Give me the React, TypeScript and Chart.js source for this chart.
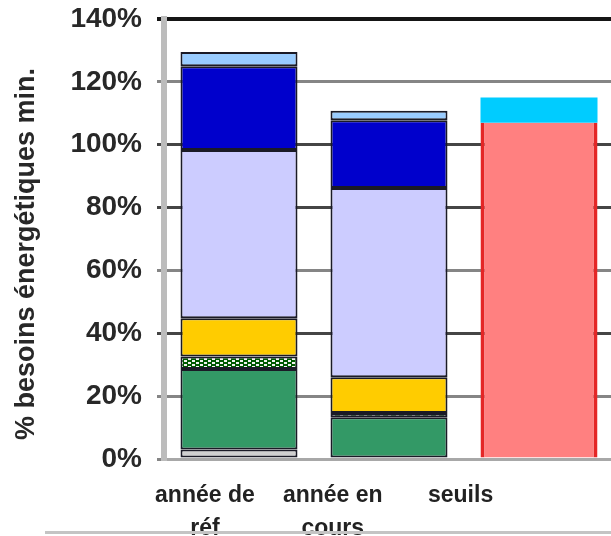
import React, { useEffect, useRef } from 'react';
import { Chart, registerables } from 'chart.js';

Chart.register(...registerables);

// ---- data ----
const categories = ['année de réf', 'année en cours', 'seuils'];
const categoryLabels: string[][] = [['année de', 'réf'], ['année en', 'cours'], ['seuils']];
const yTitle = '% besoins énergétiques min.';
const autresValues = [3, null, null];
const vertValues = [25.6, 13.3, null];
const vertHachureValues = [4, 1.3, null];
const jauneValues = [12.2, 11.4, null];
const lavandeValues = [53.5, 60.2, null];
const bleuFonceValues = [26.7, 21.6, null];
const bleuClairValues = [4.5, 3, null];
const seuilValues = [null, null, 107];
const seuilSupValues = [null, null, 8];
const yTickStep = 20;
const yMax = 140;

const FONT = '"Liberation Sans", Arial, sans-serif';

export default function App() {
  const ref = useRef<HTMLCanvasElement>(null);

  useEffect(() => {
    const canvas = ref.current!;
    const tile = document.createElement('canvas');
    tile.width = 8;
    tile.height = 4;
    const t = tile.getContext('2d')!;
    t.fillStyle = '#005a00';
    t.fillRect(0, 0, 8, 4);
    t.fillStyle = '#f2f2f2';
    t.fillRect(0, 0, 3, 2);
    t.fillRect(4, 2, 3, 2);
    const pattern = canvas.getContext('2d')!.createPattern(tile, 'repeat')!;

    const darkBorder = '#1a1a26';
    const mk = (label: string, data: any[], bg: any, extra: any = {}) => ({
      label,
      data,
      backgroundColor: bg,
      borderColor: darkBorder,
      borderWidth: 2,
      borderSkipped: false,
      stack: 's',
      xAxisID: 'x',
      yAxisID: 'y',
      barPercentage: 0.78,
      categoryPercentage: 1,
      ...extra,
    });

    const gridColor = (v: number) => {
      if (v === 140) return '#151515';
      if (v === 40 || v === 80 || v === 100) return '#454545';
      return '#858585';
    };

    const chart = new Chart(canvas, {
      type: 'bar',
      data: {
        labels: categories,
        datasets: [
          mk('autres', autresValues, '#cfcfcf'),
          mk('vert', vertValues, '#339966'),
          mk('vert hachuré', vertHachureValues, pattern),
          mk('jaune', jauneValues, '#ffcc00'),
          mk('lavande', lavandeValues, '#ccccff'),
          mk('bleu foncé', bleuFonceValues, '#0000cc'),
          mk('bleu clair', bleuClairValues, '#99ccff'),
          mk('seuil', seuilValues, '#ff8080', {
            borderColor: '#e42626',
            borderWidth: { left: 4, right: 4, top: 0, bottom: 0 },
          }),
          mk('seuil sup', seuilSupValues, '#00ccff', { borderWidth: 0 }),
        ],
      },
      options: {
        responsive: false,
        animation: false,
        devicePixelRatio: 1,
        layout: { padding: { top: 19, left: 0, right: 11, bottom: 0 } },
        plugins: { legend: { display: false }, tooltip: { enabled: false } },
        scales: {
          x: { type: 'category', stacked: true, display: false, offset: true },
          xl: {
            type: 'linear',
            position: 'bottom',
            offset: false,
            min: -0.32,
            max: 3.2,
            grid: { display: false, drawTicks: false, offset: false },
            border: { display: true, color: '#a8a8a8', width: 3 },
            afterBuildTicks: (s: any) => {
              s.ticks = categoryLabels.map((_, i) => ({ value: i }));
            },
            afterFit: (s: any) => {
              s.height = 77;
              s.paddingLeft = 0;
              s.paddingRight = 0;
            },
            ticks: {
              autoSkip: false,
              maxRotation: 0,
              minRotation: 0,
              padding: 20,
              color: '#222',
              font: { family: FONT, size: 23, weight: 'bold', lineHeight: '33px' },
              callback: (v: any) => categoryLabels[v as number] ?? '',
            },
          },
          y: {
            stacked: true,
            min: 0,
            max: yMax,
            ticks: {
              stepSize: yTickStep,
              padding: 15,
              color: '#282828',
              font: { family: FONT, size: 28, weight: 'bold' },
              callback: (v: any) => v + '%',
            },
            grid: {
              color: (c: any) => gridColor(c.tick?.value),
              tickColor: (c: any) => gridColor(c.tick?.value),
              lineWidth: (c: any) => (c.tick?.value === 140 ? 4 : 3),
              tickLength: 7,
            },
            border: { color: '#bcbcbc', width: 6 },
            title: {
              display: true,
              text: yTitle + '\u00a0\u00a0\u00a0\u00a0',
              color: '#282828',
              font: { family: FONT, size: 27, weight: 'bold' },
              padding: { top: 10, bottom: 0 },
            },
            afterFit: (s: any) => {
              s.width = 164;
              s.paddingTop = 0;
              s.paddingBottom = 0;
            },
          },
        },
      },
    } as any);
    return () => chart.destroy();
  }, []);

  return (
    <div
      style={{
        position: 'fixed',
        left: 0,
        top: 0,
        width: 611,
        height: 536,
        overflow: 'hidden',
        background: '#fff',
      }}
    >
      <canvas ref={ref} width={625} height={536} style={{ display: 'block' }} />
      <div
        style={{
          position: 'absolute',
          left: 45,
          top: 531,
          width: 566,
          height: 0,
          borderTop: '3px solid #c4c4c4',
        }}
      />
    </div>
  );
}
